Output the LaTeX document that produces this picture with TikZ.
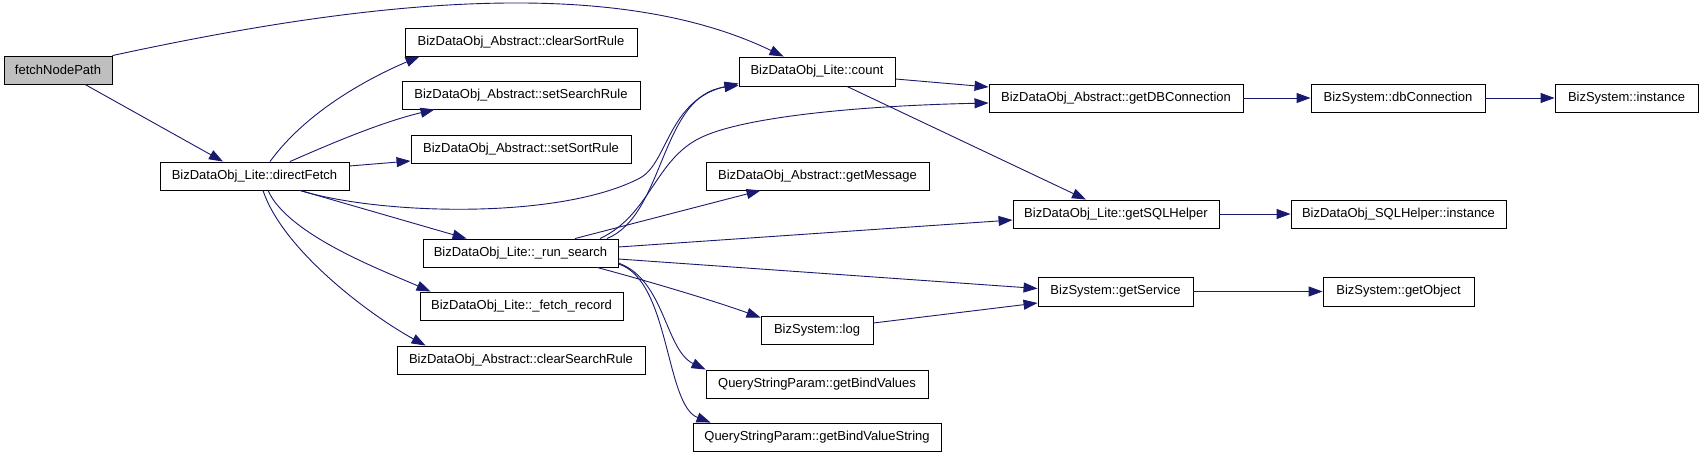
\documentclass[tikz,border=0pt]{standalone}
\usepackage{fontspec}
\setmainfont{Liberation Sans}
\usetikzlibrary{arrows.meta}
\definecolor{edgeblue}{HTML}{191970}
\definecolor{nodegray}{HTML}{BFBFBF}
\begin{document}
\begin{tikzpicture}[x=1pt,y=-1pt,
  box/.style={draw=black, line width=0.9pt, rectangle, inner sep=0pt,
    minimum height=28pt, font=\fontsize{13}{15}\selectfont, fill=white},
  edge/.style={draw=edgeblue, line width=0.9pt,
    -{Triangle[length=14pt,width=10pt]}},
]
\fill[white] (0,0) rectangle (1704,457);
\useasboundingbox (0,0) rectangle (1704,457);

% nodes
\node[box, fill=nodegray, minimum width=108pt] (fnp) at (58,70) {fetchNodePath};
\node[box, minimum width=189pt] (df) at (254.5,176) {BizDataObj\_Lite::directFetch};
\node[box, minimum width=232pt] (csr) at (521,42) {BizDataObj\_Abstract::clearSortRule};
\node[box, minimum width=238pt] (ssr) at (521,95) {BizDataObj\_Abstract::setSearchRule};
\node[box, minimum width=220pt] (sor) at (521,149) {BizDataObj\_Abstract::setSortRule};
\node[box, minimum width=195pt] (rs) at (520.5,253) {BizDataObj\_Lite::\_run\_search};
\node[box, minimum width=203pt] (fr) at (521.5,306) {BizDataObj\_Lite::\_fetch\_record};
\node[box, minimum width=248pt] (csrch) at (521,360) {BizDataObj\_Abstract::clearSearchRule};
\node[box, minimum width=156pt, minimum height=29pt] (cnt) at (817,71.5) {BizDataObj\_Lite::count};
\node[box, minimum width=223pt] (gm) at (817.5,176) {BizDataObj\_Abstract::getMessage};
\node[box, minimum width=112pt] (log) at (817,330) {BizSystem::log};
\node[box, minimum width=222pt] (gbv) at (817,384) {QueryStringParam::getBindValues};
\node[box, minimum width=248pt] (gbvs) at (817,437) {QueryStringParam::getBindValueString};
\node[box, minimum width=254pt] (gdb) at (1116,98) {BizDataObj\_Abstract::getDBConnection};
\node[box, minimum width=206pt] (gsql) at (1116,214) {BizDataObj\_Lite::getSQLHelper};
\node[box, minimum width=155pt, minimum height=29pt] (gsvc) at (1115.5,291.5) {BizSystem::getService};
\node[box, minimum width=174pt] (dbc) at (1398,98) {BizSystem::dbConnection};
\node[box, minimum width=143pt] (bsi) at (1626.5,98) {BizSystem::instance};
\node[box, minimum width=215pt] (sqli) at (1398.5,214) {BizDataObj\_SQLHelper::instance};
\node[box, minimum width=151pt, minimum height=29pt] (gobj) at (1398.5,291.5) {BizSystem::getObject};

% edges
\draw[edge] (fnp.north east) .. controls +(240,-52) and +(-176,-85) .. ([xshift=45pt]cnt.north west);
\draw[edge] ([xshift=27pt]fnp.south) -- ([xshift=-31.5pt]df.north);
\draw[edge] ([xshift=15.5pt]df.north) .. controls +(40,-55) and +(-40,17) .. ([xshift=15pt]csr.south west);
\draw[edge] ([xshift=35.5pt]df.north) .. controls +(50,-22) and +(-50,12) .. ([xshift=33pt]ssr.south west);
\draw[edge] ([yshift=10pt]df.east) -- ([yshift=-12pt]sor.west);
\draw[edge] ([xshift=45.5pt]df.south) .. controls (380,215) and (560,220) .. (640,178)
   .. controls (668,163) and (668,100) .. ([yshift=3pt]cnt.south west);
\draw[edge] ([xshift=45.5pt]df.south) -- ([xshift=44pt]rs.north west);
\draw[edge] ([xshift=13.5pt]df.south) .. controls +(20,45) and +(-45,-20) .. ([xshift=11pt]fr.north west);
\draw[edge] ([xshift=8.5pt]df.south) .. controls +(20,60) and +(-55,-30) .. ([xshift=29pt]csrch.north west);

\draw[edge] ([xshift=86.5pt]rs.north) .. controls (665,215) and (660,95) .. ([yshift=1pt]cnt.south west);
\draw[edge] ([xshift=79.5pt]rs.north) .. controls (650,215) and (655,160) .. (700,138)
   .. controls (740,118) and (850,106) .. ([yshift=-5pt]gdb.west);
\draw[edge] ([xshift=54.5pt]rs.north) -- ([xshift=55pt]gm.south west);
\draw[edge] ([yshift=6pt]rs.east) -- ([yshift=-6pt]gsql.west);
\draw[edge] ([yshift=-6pt]rs.east) -- ([yshift=3pt]gsvc.west);
\draw[edge] ([xshift=76.5pt]rs.south) .. controls +(45,12) and +(-50,-18) .. ([yshift=-2pt]log.north west);
\draw[edge] ([yshift=-10pt]rs.east) .. controls (665,280) and (665,350) .. (gbv.north west);
\draw[edge] ([yshift=-11pt]rs.east) .. controls (670,280) and (665,405) .. ([xshift=18pt]gbvs.north west);

\draw[edge] ([yshift=-7.5pt]cnt.east) -- ([yshift=11pt]gdb.west);
\draw[edge] ([xshift=30pt]cnt.south) -- ([xshift=-30pt]gsql.north);
\draw[edge] (gdb.east) -- (dbc.west);
\draw[edge] (dbc.east) -- (bsi.west);
\draw[edge] (gsql.east) -- (sqli.west);
\draw[edge] (gsvc.east) -- (gobj.west);
\draw[edge] ([yshift=7pt]log.east) -- ([yshift=-11.5pt]gsvc.west);
\end{tikzpicture}
\end{document}
